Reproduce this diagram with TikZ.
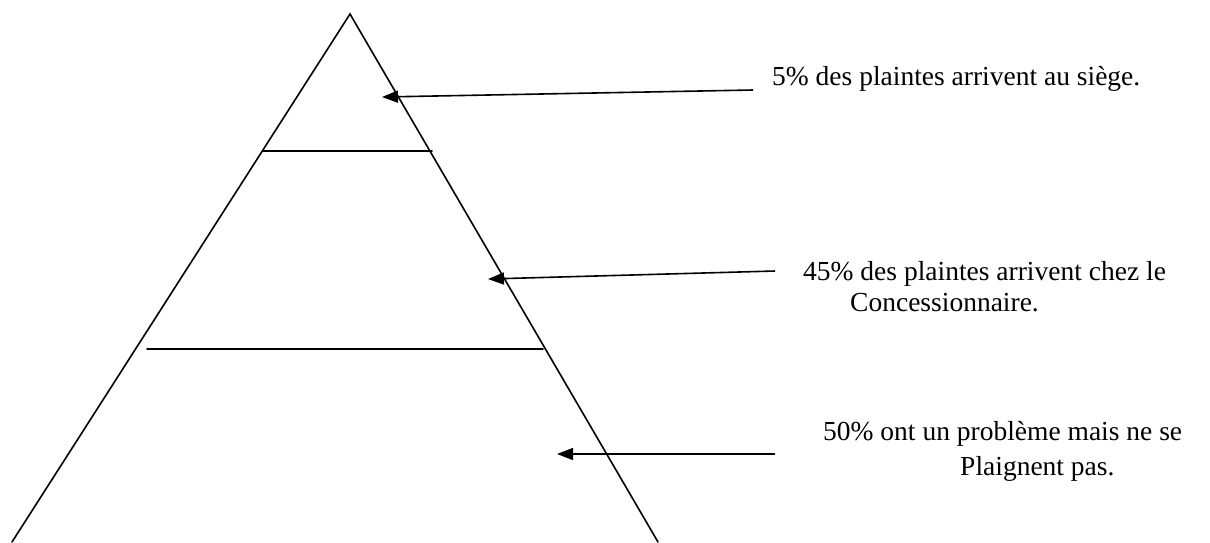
\documentclass[tikz,border=0pt]{standalone}
\usepackage{fontspec}
\setmainfont{Liberation Serif}
\usetikzlibrary{arrows.meta}
\begin{document}
\begin{tikzpicture}[x=1pt,y=-1pt,
  edge/.style={line width=1.6pt,line cap=round,line join=miter},
  pointer/.style={line width=1.6pt,-{Triangle[length=16pt,width=12pt]}},
  lbl/.style={anchor=base west,inner sep=0pt,font=\fontsize{27.5}{32}\selectfont}]
\useasboundingbox (0,0) rectangle (1210,542);
% pyramid
\coordinate (apex) at (350,14);
\coordinate (bl) at (12,542);
\coordinate (br) at (658,542);
\draw[edge] (bl) -- (apex) -- (br);
\coordinate (l1a) at (263,151);
\coordinate (l1b) at (432,151);
\coordinate (l2a) at (147,349);
\coordinate (l2b) at (543,349);
\draw[edge] (l1a) -- (l1b);
\draw[edge] (l2a) -- (l2b);
% labels
\node[lbl] (t1) at (772,85) {5\% des plaintes arrivent au siège.};
\node[lbl] (t2a) at (803,280) {45\% des plaintes arrivent chez le};
\node[lbl] (t2b) at (850,311) {Concessionnaire.};
\node[lbl] (t3a) at (823,440) {50\% ont un problème mais ne se};
\node[lbl] (t3b) at (960,475) {Plaignent pas.};
% arrows
\coordinate (a1s) at (753,90);
\coordinate (a1e) at (382,97);
\coordinate (a2s) at (775,271);
\coordinate (a2e) at (488,279);
\coordinate (a3s) at (775,454);
\coordinate (a3e) at (557,454);
\draw[pointer] (a1s) -- (a1e);
\draw[pointer] (a2s) -- (a2e);
\draw[pointer] (a3s) -- (a3e);
\end{tikzpicture}
\end{document}
